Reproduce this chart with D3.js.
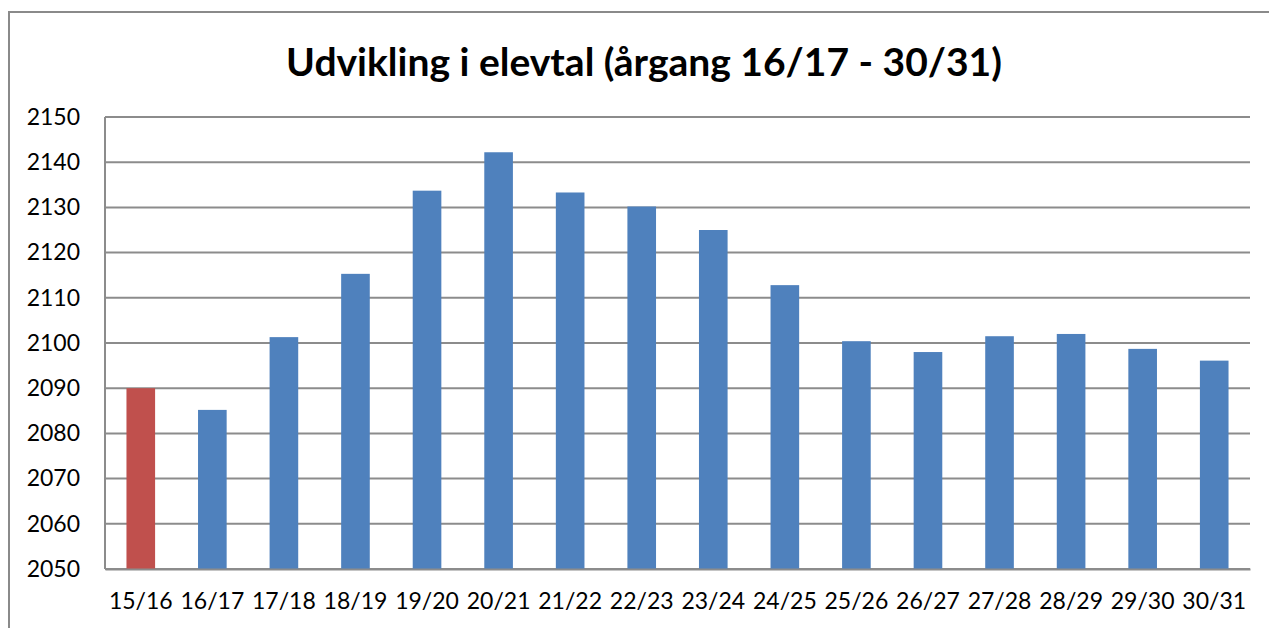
<!DOCTYPE html>
<html>
<head>
<meta charset="utf-8">
<script src="https://cdn.jsdelivr.net/npm/d3@7"></script>
<style>
  body { margin: 0; background: #fff; }
  svg { display: block; }
  text { font-family: Lato, "Open Sans", sans-serif; }
</style>
</head>
<body>
<div id="chart"></div>
<script>
// aargange og elevtal
const years = ['15/16','16/17','17/18','18/19','19/20','20/21','21/22','22/23','23/24','24/25','25/26','26/27','27/28','28/29','29/30','30/31'];
const pupils = [2090, 2085.2, 2101.3, 2115.3, 2133.7, 2142.2, 2133.3, 2130.2, 2125, 2112.8, 2100.4, 2098, 2101.5, 2102, 2098.7, 2096.1];
const yTicks = [2050, 2060, 2070, 2080, 2090, 2100, 2110, 2120, 2130, 2140, 2150];
const title = 'Udvikling i elevtal (årgang 16/17 - 30/31)';

const W = 1269, H = 628;
const m = {top: 117, right: 19, bottom: 59, left: 105};

const svg = d3.select('#chart')
    .append('svg')
    .attr('width', W)
    .attr('height', H);

// ramme om diagrammet
svg.append('rect')
    .attr('x', 9).attr('y', 12)
    .attr('width', W + 20).attr('height', H + 20)
    .attr('fill', 'none')
    .attr('stroke', '#8a8a8a')
    .attr('stroke-width', 2);

svg.append('text')
    .attr('x', 644).attr('y', 76)
    .attr('text-anchor', 'middle')
    .attr('font-weight', 'bold')
    .attr('font-size', 39)
    .attr('fill', '#000')
    .text(title);

const x = d3.scaleBand()
    .domain(years)
    .range([m.left, W - m.right])
    .paddingInner(0.6)
    .paddingOuter(0.3);

const y = d3.scaleLinear()
    .domain([2050, 2150])
    .range([H - m.bottom, m.top]);

// gitterlinjer
svg.append('g')
    .selectAll('line')
    .data(yTicks)
    .enter()
    .append('line')
        .attr('x1', m.left)
        .attr('x2', W - m.right)
        .attr('y1', d => y(d))
        .attr('y2', d => y(d))
        .attr('stroke', '#8c8c8c')
        .attr('stroke-width', 2);

svg.append('line')
    .attr('x1', m.left).attr('x2', m.left)
    .attr('y1', y(2150)).attr('y2', y(2050))
    .attr('stroke', '#8c8c8c')
    .attr('stroke-width', 2);

svg.append('g')
    .selectAll('rect')
    .data(pupils)
    .enter()
    .append('rect')
        .attr('x', (d, i) => x(years[i]))
        .attr('width', x.bandwidth())
        .attr('y', d => y(d))
        .attr('height', d => y(2050) - y(d))
        .attr('fill', (d, i) => i === 0 ? '#c0504d' : '#4f81bd');

const yAxis = svg.append('g')
    .attr('transform', `translate(${m.left}, 0)`)
    .call(d3.axisLeft(y).tickValues(yTicks).tickSize(0).tickPadding(25).tickFormat(d3.format('d')));
yAxis.select('.domain').remove();
yAxis.selectAll('text')
    .attr('font-size', 23)
    .attr('font-family', 'Lato, sans-serif')
    .attr('fill', '#000');

const xAxis = svg.append('g')
    .attr('transform', `translate(0, ${H - m.bottom})`)
    .call(d3.axisBottom(x).tickSize(0).tickPadding(24));
xAxis.select('.domain')
    .attr('stroke', '#8c8c8c')
    .attr('stroke-width', 2);
xAxis.selectAll('text')
    .attr('font-size', 23)
    .attr('font-family', 'Lato, sans-serif')
    .attr('fill', '#000');
</script>
</body>
</html>
